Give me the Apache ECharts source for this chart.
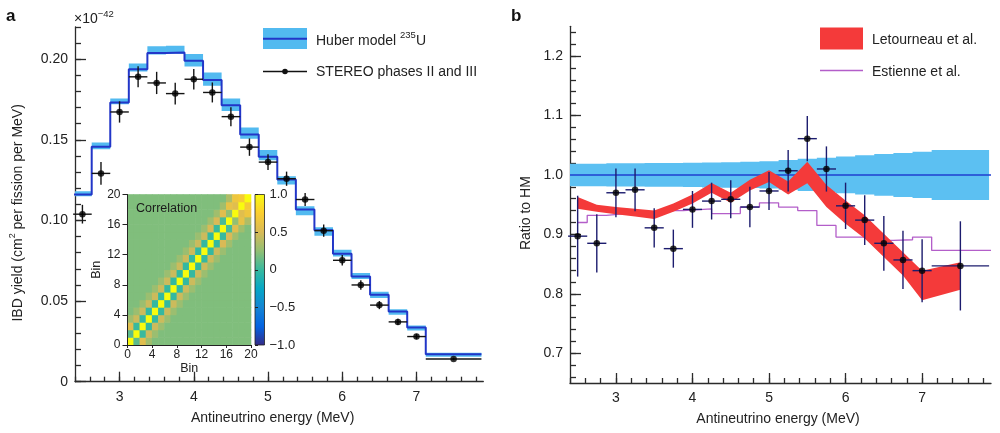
<!DOCTYPE html>
<html><head><meta charset="utf-8">
<script src="https://cdn.jsdelivr.net/npm/echarts@6/dist/echarts.min.js"></script>
<style>html,body{margin:0;padding:0;background:#fff}#c{width:1000px;height:433px}</style>
</head><body><div id="c"></div>
<script>
// ---------- data ----------
const BIN_CENTERS = [2.5,2.75,3.0,3.25,3.5,3.75,4.0,4.25,4.5,4.75,5.0,5.25,5.5,5.75,6.0,6.25,6.5,6.75,7.0,7.5];
const BIN_LO = [2.375,2.625,2.875,3.125,3.375,3.625,3.875,4.125,4.375,4.625,4.875,5.125,5.375,5.625,5.875,6.125,6.375,6.625,6.875,7.125];
const BIN_HI = [2.625,2.875,3.125,3.375,3.625,3.875,4.125,4.375,4.625,4.875,5.125,5.375,5.625,5.875,6.125,6.375,6.625,6.875,7.125,7.875];

// panel a: IBD yield (x1e-42)
const HUBER = [0.1161,0.1458,0.1731,0.1938,0.2038,0.2042,0.1990,0.1872,0.1715,0.1534,0.1396,0.1254,0.1068,0.0939,0.0794,0.0653,0.0539,0.0435,0.0336,0.0170];
const HUBER_LOW = [0.1150,0.1441,0.1721,0.1924,0.2030,0.2034,0.1955,0.1835,0.1679,0.1507,0.1374,0.1223,0.1032,0.0906,0.0777,0.0637,0.0519,0.0415,0.0317,0.0155];
const HUBER_HIGH = [0.1182,0.1483,0.1756,0.1974,0.2080,0.2083,0.2032,0.1918,0.1756,0.1576,0.1437,0.1275,0.1088,0.0958,0.0819,0.0674,0.0558,0.0450,0.0348,0.0180];
const STEREO_YIELD = [0.1039,0.1292,0.1673,0.1891,0.1853,0.1787,0.1876,0.1794,0.1644,0.1455,0.1362,0.1259,0.1130,0.0937,0.0753,0.0600,0.0475,0.0371,0.0280,0.0141];
const STEREO_YIELD_ERR = [0.0058,0.0070,0.0066,0.0065,0.0069,0.0067,0.0064,0.0062,0.0059,0.0054,0.0049,0.0044,0.0041,0.0038,0.0033,0.0030,0.0025,0.0020,0.0017,0.0008];

// panel b: ratio to HM
const HM_HALF = [0.019,0.019,0.0195,0.0195,0.020,0.020,0.0205,0.021,0.0215,0.022,0.023,0.025,0.027,0.029,0.031,0.033,0.035,0.037,0.039,0.042];
const STEREO_RATIO = [0.897,0.885,0.970,0.975,0.911,0.876,0.942,0.956,0.959,0.946,0.973,1.007,1.061,1.010,0.948,0.924,0.885,0.857,0.839,0.847];
const STEREO_RATIO_ERR = [0.068,0.049,0.041,0.036,0.033,0.032,0.031,0.031,0.032,0.034,0.032,0.035,0.038,0.038,0.039,0.042,0.046,0.049,0.053,0.075];
const LET_LOW = [0.943,0.938,0.934,0.930,0.926,0.938,0.952,0.970,0.953,0.974,0.988,0.967,0.986,0.946,0.918,0.893,0.862,0.831,0.789,0.807];
const LET_HIGH = [0.963,0.950,0.946,0.943,0.940,0.952,0.967,0.9865,0.970,0.992,1.008,0.989,1.022,0.983,0.957,0.932,0.901,0.870,0.839,0.853];
const EST_EDGES = [2.5,2.625,2.875,3.125,3.375,3.625,3.875,4.25,4.625,4.875,5.125,5.375,5.625,5.875,6.125,6.375,6.625,6.875,7.125,7.9];
const EST_VALUES = [0.920,0.932,0.935,0.936,0.934,0.940,0.943,0.935,0.946,0.953,0.946,0.940,0.915,0.8955,0.8955,0.890,0.891,0.8955,0.873];

// inset: correlation matrix, by diagonal
const CORR_D0 = [1,1,1,1,1,1,1,1,1,1,1,1,1,1,1,1,1,1,1,1];
const CORR_D1 = [0.1,0.0,-0.02,-0.02,-0.02,-0.02,-0.02,-0.02,-0.02,-0.02,-0.02,-0.02,-0.02,-0.02,0.0,0.05,0.25,0.55,0.7];
const CORR_D2 = [0.55,0.45,0.45,0.45,0.45,0.45,0.45,0.45,0.45,0.45,0.45,0.45,0.45,0.5,0.5,0.55,0.6,0.65];
const CORR_D3 = [0.3,0.28,0.28,0.28,0.28,0.28,0.28,0.28,0.28,0.28,0.28,0.28,0.28,0.3,0.3,0.3,0.35];
const CORR_FAR = 0.2;

// tick labels
const X_MAJOR = [3,4,5,6,7];
const X_MINOR = [2.4,2.6,2.8,3.0,3.2,3.4,3.6,3.8,4.0,4.2,4.4,4.6,4.8,5.0,5.2,5.4,5.6,5.8,6.0,6.2,6.4,6.6,6.8,7.0,7.2,7.4,7.6,7.8];
const YA_MAJOR = [0,0.05,0.10,0.15,0.20];
const YA_MINOR = [0,0.01,0.02,0.03,0.04,0.05,0.06,0.07,0.08,0.09,0.10,0.11,0.12,0.13,0.14,0.15,0.16,0.17,0.18,0.19,0.20,0.21,0.22];
const YB_MAJOR = [0.7,0.8,0.9,1.0,1.1,1.2];
const YB_MINOR = [0.66,0.68,0.70,0.72,0.74,0.76,0.78,0.80,0.82,0.84,0.86,0.88,0.90,0.92,0.94,0.96,0.98,1.00,1.02,1.04,1.06,1.08,1.10,1.12,1.14,1.16,1.18,1.20,1.22,1.24];
const PARULA = ['#352a87','#0363e1','#1485d4','#06a7c6','#38b99e','#92bf73','#d9ba56','#fcce2e','#f9fb0e'];

// ---------- build ----------
const FONT = 'Liberation Sans, Arial, Helvetica, sans-serif';
const AX = '#2b2b2b';
const huberStep = [];
BIN_LO.forEach((lo, i) => { huberStep.push([lo, HUBER[i]]); huberStep.push([BIN_HI[i], HUBER[i]]); });
const stereoA = BIN_CENTERS.map((x, i) => [x, STEREO_YIELD[i], BIN_LO[i], BIN_HI[i], STEREO_YIELD_ERR[i]]);
const stereoB = BIN_CENTERS.map((x, i) => [x, STEREO_RATIO[i], BIN_LO[i], BIN_HI[i], STEREO_RATIO_ERR[i]]);
const hmLow = HM_HALF.map(h => 1 - h);
const hmHigh = HM_HALF.map(h => 1 + h);
const estStep = [];
EST_VALUES.forEach((v, i) => { estStep.push([EST_EDGES[i], v]); estStep.push([EST_EDGES[i + 1], v]); });
const corr = [];
for (let i = 0; i < 20; i++) for (let j = 0; j < 20; j++) {
  const d = Math.abs(i - j), m = Math.min(i, j);
  const v = d === 0 ? CORR_D0[i] : d === 1 ? CORR_D1[m] : d === 2 ? CORR_D2[m] : d === 3 ? CORR_D3[m] : CORR_FAR;
  corr.push([i, j, v]);
}

// stepped band polygon through the bin edges
function stepBandRender(lows, highs, color) {
  return function (params, api) {
    const pts = [];
    BIN_LO.forEach((lo, i) => { pts.push(api.coord([lo, highs[i]])); pts.push(api.coord([BIN_HI[i], highs[i]])); });
    for (let i = BIN_LO.length - 1; i >= 0; i--) { pts.push(api.coord([BIN_HI[i], lows[i]])); pts.push(api.coord([BIN_LO[i], lows[i]])); }
    return { type: 'polygon', shape: { points: pts }, style: { fill: color } };
  };
}
function errRender(color) {
  return function (params, api) {
    const x = api.value(0), y = api.value(1), lo = api.value(2), hi = api.value(3), e = api.value(4);
    const a = api.coord([x, y + e]), b = api.coord([x, y - e]), l = api.coord([lo, y]), r = api.coord([hi, y]);
    return { type: 'group', children: [
      { type: 'line', shape: { x1: a[0], y1: a[1], x2: b[0], y2: b[1] }, style: { stroke: color, lineWidth: 1.4 } },
      { type: 'line', shape: { x1: l[0], y1: l[1], x2: r[0], y2: r[1] }, style: { stroke: color, lineWidth: 1.4 } }
    ] };
  };
}
function letRender(params, api) {
  const pts = [];
  BIN_CENTERS.forEach((x, i) => pts.push(api.coord([x, LET_HIGH[i]])));
  for (let i = BIN_CENTERS.length - 1; i >= 0; i--) pts.push(api.coord([BIN_CENTERS[i], LET_LOW[i]]));
  return { type: 'polygon', shape: { points: pts }, style: { fill: '#f43a3a' } };
}
function heatRender(params, api) {
  const i = api.value(0), j = api.value(1);
  const p1 = api.coord([i, j + 1]), p2 = api.coord([i + 1, j]);
  const c = api.visual('color');
  return { type: 'rect', shape: { x: p1[0] - 0.3, y: p1[1] - 0.3, width: p2[0] - p1[0] + 0.6, height: p2[1] - p1[1] + 0.6 }, style: { fill: c } };
}
function cbarRender(params, api) {
  const p1 = api.coord([0, 1]), p2 = api.coord([1, -1]);
  const stops = PARULA.slice().reverse().map((c, k, arr) => ({ offset: k / (arr.length - 1), color: c }));
  return { type: 'rect', shape: { x: p1[0], y: p1[1], width: p2[0] - p1[0], height: p2[1] - p1[1] },
    style: { fill: { type: 'linear', x: 0, y: 0, x2: 0, y2: 1, colorStops: stops }, stroke: '#222', lineWidth: 0.8 } };
}

const lbl = { color: '#222', fontSize: 14, fontFamily: FONT };
const tickStyle = { color: AX, width: 1.3 };
const axLine = { show: true, onZero: false, lineStyle: { color: AX, width: 1.3 } };
const nameStyle = { color: '#222', fontSize: 14, fontFamily: FONT };
const supRich = { t: { fontSize: 14, fontFamily: FONT, color: '#222', lineHeight: 20 }, s: { fontSize: 9, fontFamily: FONT, color: '#222', verticalAlign: 'top' } };

function mainX(grid, name, pad) {
  return [
    { gridIndex: grid, type: 'value', min: 2.4, max: 7.9, position: 'bottom', axisLine: axLine, splitLine: { show: false },
      axisTick: { customValues: X_MAJOR, inside: true, length: 10, lineStyle: tickStyle },
      axisLabel: Object.assign({ customValues: X_MAJOR, margin: 8 }, lbl),
      name: name, nameLocation: 'middle', nameGap: 29, nameTextStyle: Object.assign({ padding: [0, pad, 0, 0] }, nameStyle) },
    { gridIndex: grid, type: 'value', min: 2.4, max: 7.9, position: 'bottom', axisLine: { show: false, onZero: false }, splitLine: { show: false },
      axisTick: { customValues: X_MINOR, inside: true, length: 5, lineStyle: tickStyle }, axisLabel: { show: false } }
  ];
}

const option = {
  animation: false,
  textStyle: { fontFamily: FONT },
  grid: [
    { left: 75, top: 27, width: 408.3, height: 354.7, outerBoundsMode: 'none' },
    { left: 570, top: 26.3, width: 421, height: 356.7, outerBoundsMode: 'none' },
    { left: 127.5, top: 194.5, width: 123.5, height: 150.5, outerBoundsMode: 'none' },
    { left: 255, top: 194.5, width: 9.5, height: 150.5, outerBoundsMode: 'none' }
  ],
  xAxis: [].concat(
    mainX(0, 'Antineutrino energy (MeV)', 13),
    mainX(1, 'Antineutrino energy (MeV)', 5),
    [
      { gridIndex: 2, type: 'value', min: 0, max: 20, interval: 4, z: 10, axisLine: { onZero: false, lineStyle: { color: '#222', width: 1 } },
        axisTick: { length: 3, lineStyle: { color: '#222', width: 1 } }, axisLabel: { fontSize: 12, margin: 4, color: '#222', fontFamily: FONT },
        splitLine: { show: false }, name: 'Bin', nameLocation: 'middle', nameGap: 16, nameTextStyle: { fontSize: 12.5, color: '#222', fontFamily: FONT } },
      { gridIndex: 3, type: 'value', min: 0, max: 1, show: false }
    ]
  ),
  yAxis: [
    { gridIndex: 0, type: 'value', min: 0, max: 0.22, position: 'left', axisLine: axLine, splitLine: { show: false },
      axisTick: { customValues: YA_MAJOR, inside: true, length: 11, lineStyle: tickStyle },
      axisLabel: Object.assign({ customValues: YA_MAJOR, margin: 7, formatter: v => (v === 0 ? '0' : v.toFixed(2)) }, lbl),
      name: '{t|IBD yield (cm}{s|2}{t| per fission per MeV)}', nameLocation: 'middle', nameGap: 47,
      nameTextStyle: { padding: [0, 17, 0, 0], rich: supRich } },
    { gridIndex: 0, type: 'value', min: 0, max: 0.22, position: 'left', axisLine: { show: false, onZero: false }, splitLine: { show: false },
      axisTick: { customValues: YA_MINOR, inside: true, length: 6, lineStyle: tickStyle }, axisLabel: { show: false } },
    { gridIndex: 1, type: 'value', min: 0.65, max: 1.25, position: 'left', axisLine: axLine, splitLine: { show: false },
      axisTick: { customValues: YB_MAJOR, inside: true, length: 11, lineStyle: tickStyle },
      axisLabel: Object.assign({ customValues: YB_MAJOR, margin: 7, formatter: v => v.toFixed(1) }, lbl),
      name: 'Ratio to HM', nameLocation: 'middle', nameGap: 37, nameTextStyle: Object.assign({ padding: [0, 17, 0, 0] }, nameStyle) },
    { gridIndex: 1, type: 'value', min: 0.65, max: 1.25, position: 'left', axisLine: { show: false, onZero: false }, splitLine: { show: false },
      axisTick: { customValues: YB_MINOR, inside: true, length: 6, lineStyle: tickStyle }, axisLabel: { show: false } },
    { gridIndex: 2, type: 'value', min: 0, max: 20, interval: 4, z: 10, axisLine: { onZero: false, lineStyle: { color: '#222', width: 1 } },
      axisTick: { length: 5, lineStyle: { color: '#222', width: 1 } }, axisLabel: { fontSize: 12, margin: 7, color: '#222', fontFamily: FONT },
      splitLine: { show: false }, name: 'Bin', nameLocation: 'middle', nameGap: 22, nameTextStyle: { fontSize: 12.5, color: '#222', fontFamily: FONT } },
    { gridIndex: 3, type: 'value', min: -1, max: 1, interval: 0.5, position: 'right', z: 10, axisLine: { show: false },
      axisTick: { length: 3, lineStyle: { color: '#222', width: 1 } }, splitLine: { show: false },
      axisLabel: { fontSize: 13, margin: 5, color: '#222', fontFamily: FONT, formatter: v => (v === 0 ? '0' : (v < 0 ? '\u2212' : '') + Math.abs(v).toFixed(1)) } }
  ],
  visualMap: [{ type: 'continuous', show: false, min: -1, max: 1, dimension: 2, seriesIndex: 10, inRange: { color: PARULA } }],
  series: [
    { type: 'custom', xAxisIndex: 0, yAxisIndex: 0, z: 1, clip: true, silent: true, data: [[BIN_LO[0], HUBER_LOW[0]]], encode: { x: 0, y: 1 }, renderItem: stepBandRender(HUBER_LOW, HUBER_HIGH, '#52baf0') },
    { type: 'line', xAxisIndex: 0, yAxisIndex: 0, z: 2, symbol: 'none', silent: true, data: huberStep, lineStyle: { color: '#2236c8', width: 2 } },
    { type: 'custom', xAxisIndex: 0, yAxisIndex: 0, z: 4, silent: true, data: stereoA, encode: { x: 0, y: 1 }, renderItem: errRender('#141414') },
    { type: 'scatter', xAxisIndex: 0, yAxisIndex: 0, z: 5, silent: true, symbolSize: 6.5, itemStyle: { color: '#000' }, data: stereoA.map(d => [d[0], d[1]]) },

    { type: 'custom', xAxisIndex: 2, yAxisIndex: 2, z: 1, clip: true, silent: true, data: [[BIN_LO[0], hmLow[0]]], encode: { x: 0, y: 1 }, renderItem: stepBandRender(hmLow, hmHigh, '#5cc0f2') },
    { type: 'line', xAxisIndex: 2, yAxisIndex: 2, z: 2, symbol: 'none', silent: true, data: [[2.4, 1], [7.9, 1]], lineStyle: { color: '#1f3fd0', width: 1.5 } },
    { type: 'line', xAxisIndex: 2, yAxisIndex: 2, z: 2, symbol: 'none', silent: true, data: estStep, lineStyle: { color: '#b35ec9', width: 1.3 } },
    { type: 'custom', xAxisIndex: 2, yAxisIndex: 2, z: 3, silent: true, data: [[BIN_CENTERS[0], LET_LOW[0]]], encode: { x: 0, y: 1 }, renderItem: letRender },
    { type: 'custom', xAxisIndex: 2, yAxisIndex: 2, z: 4, silent: true, data: stereoB, encode: { x: 0, y: 1 }, renderItem: errRender('#1c1c6e') },
    { type: 'scatter', xAxisIndex: 2, yAxisIndex: 2, z: 5, silent: true, symbolSize: 6.5, itemStyle: { color: '#000' }, data: stereoB.map(d => [d[0], d[1]]) },

    { type: 'custom', xAxisIndex: 4, yAxisIndex: 4, z: 6, silent: true, data: corr, encode: { x: 0, y: 1 }, renderItem: heatRender },
    { type: 'custom', xAxisIndex: 5, yAxisIndex: 5, z: 6, silent: true, data: [[0, -1]], encode: { x: 0, y: 1 }, renderItem: cbarRender }
  ],
  graphic: [
    { type: 'text', x: 6, y: 16, style: { text: 'a', font: 'bold 17px ' + FONT, fill: '#111', verticalAlign: 'middle' } },
    { type: 'text', x: 511, y: 16, style: { text: 'b', font: 'bold 17px ' + FONT, fill: '#111', verticalAlign: 'middle' } },
    { type: 'text', x: 74, y: 19, style: { text: '{t|\u00d710}{s|\u221242}', verticalAlign: 'middle',
        rich: { t: { fontSize: 14, fontFamily: FONT, fill: '#222', lineHeight: 20 }, s: { fontSize: 9.5, fontFamily: FONT, fill: '#222', verticalAlign: 'top' } } } },
    // legend a
    { type: 'rect', shape: { x: 263, y: 28, width: 44, height: 21 }, style: { fill: '#52baf0' } },
    { type: 'line', shape: { x1: 263, y1: 38.7, x2: 307, y2: 38.7 }, style: { stroke: '#2236c8', lineWidth: 2 } },
    { type: 'text', x: 316, y: 41, style: { text: '{t|Huber model }{s|235}{t|U}', verticalAlign: 'middle',
        rich: { t: { fontSize: 14, fontFamily: FONT, fill: '#222', lineHeight: 21 }, s: { fontSize: 9.5, fontFamily: FONT, fill: '#222', verticalAlign: 'top' } } } },
    { type: 'line', shape: { x1: 263, y1: 71.5, x2: 307, y2: 71.5 }, style: { stroke: '#111', lineWidth: 1.3 } },
    { type: 'circle', shape: { cx: 285, cy: 71.5, r: 2.8 }, style: { fill: '#111' } },
    { type: 'text', x: 316, y: 72, style: { text: 'STEREO phases II and III', font: '14px ' + FONT, fill: '#222', verticalAlign: 'middle' } },
    // legend b
    { type: 'rect', shape: { x: 820, y: 27.5, width: 43, height: 22 }, style: { fill: '#f43a3a' } },
    { type: 'text', x: 872, y: 40.5, style: { text: 'Letourneau et al.', font: '14px ' + FONT, fill: '#222', verticalAlign: 'middle' } },
    { type: 'line', shape: { x1: 820, y1: 70.5, x2: 863, y2: 70.5 }, style: { stroke: '#b35ec9', lineWidth: 1.3 } },
    { type: 'text', x: 872, y: 72, style: { text: 'Estienne et al.', font: '14px ' + FONT, fill: '#222', verticalAlign: 'middle' } },
    // inset label
    { type: 'text', x: 136, y: 208.5, z: 20, style: { text: 'Correlation', font: '12.5px ' + FONT, fill: '#1a1a1a', verticalAlign: 'middle' } }
  ]
};
const chart = echarts.init(document.getElementById('c'), null, { renderer: 'canvas' });
chart.setOption(option);
</script></body></html>
